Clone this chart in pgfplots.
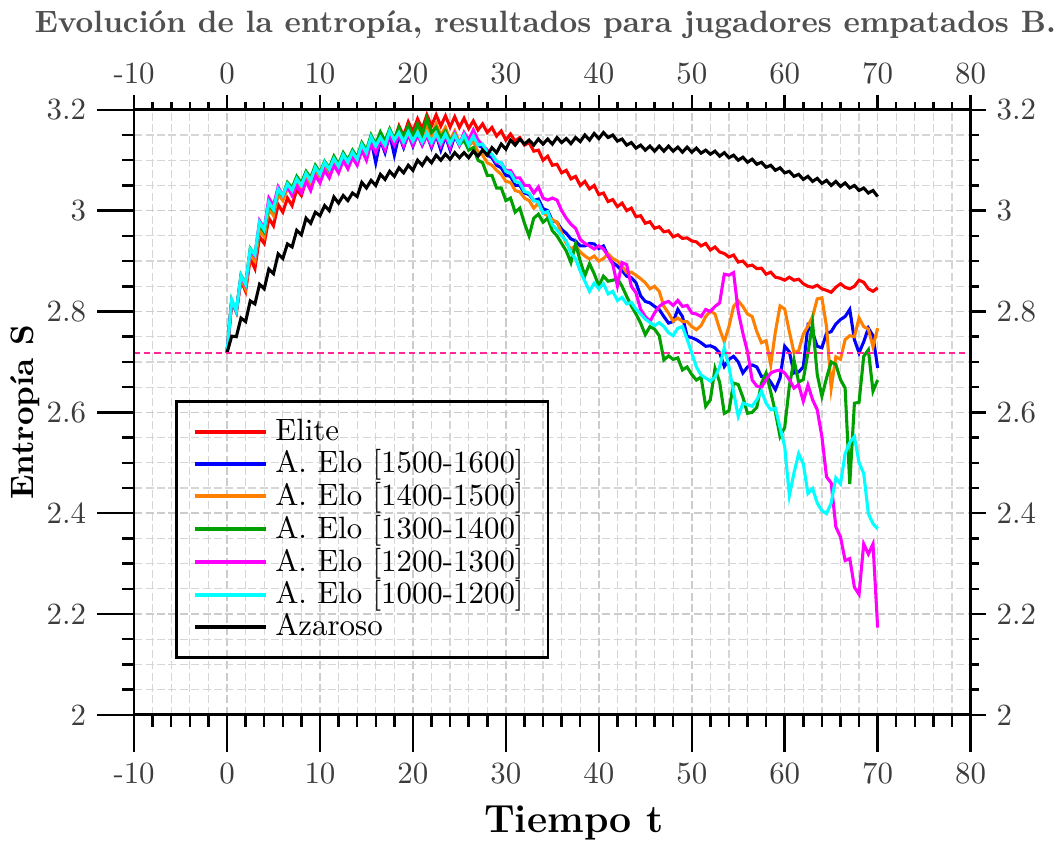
\documentclass[border=0pt]{standalone}
\usepackage{pgfplots}
\usepackage{pgfplotstable}
\pgfplotsset{compat=1.18}
\definecolor{cRed}{RGB}{255,0,0}
\definecolor{cBlue}{RGB}{0,0,255}
\definecolor{cOrange}{RGB}{255,128,0}
\definecolor{cGreen}{RGB}{0,160,0}
\definecolor{cMagenta}{RGB}{255,0,255}
\definecolor{cCyan}{RGB}{0,255,255}
\definecolor{cPink}{RGB}{255,40,150}
\definecolor{tickgray}{RGB}{60,60,60}
\definecolor{titlegray}{RGB}{80,80,80}

\pgfplotstableread{
t R B O G M C K
0 2.718 2.718 2.718 2.718 2.718 2.718 2.718
0.5 2.820 2.820 2.820 2.822 2.820 2.824 2.751
1 2.800 2.800 2.798 2.800 2.800 2.801 2.750
1.5 2.862 2.868 2.865 2.872 2.868 2.871 2.787
2 2.840 2.850 2.845 2.855 2.852 2.854 2.780
2.5 2.905 2.918 2.912 2.925 2.920 2.924 2.821
3 2.885 2.905 2.900 2.912 2.910 2.912 2.815
3.5 2.948 2.965 2.962 2.972 2.980 2.977 2.854
4 2.935 2.952 2.948 2.958 2.965 2.962 2.845
4.5 2.985 3.005 3.005 3.012 3.025 3.017 2.884
5 2.970 2.992 2.990 3.000 3.010 3.002 2.875
5.5 3.012 3.035 3.032 3.040 3.047 3.043 2.914
6 2.997 3.022 3.020 3.030 3.030 3.030 2.905
6.5 3.025 3.048 3.045 3.056 3.048 3.053 2.934
7 3.010 3.035 3.032 3.045 3.030 3.040 2.928
7.5 3.042 3.058 3.055 3.068 3.050 3.063 2.961
8 3.030 3.045 3.042 3.055 3.035 3.050 2.952
8.5 3.060 3.070 3.065 3.078 3.058 3.074 2.985
9 3.048 3.055 3.050 3.065 3.040 3.060 2.975
9.5 3.075 3.082 3.075 3.090 3.070 3.086 2.997
10 3.062 3.068 3.060 3.076 3.055 3.072 2.990
10.5 3.085 3.092 3.085 3.098 3.080 3.096 3.010
11 3.072 3.078 3.068 3.085 3.065 3.082 3.000
11.5 3.095 3.100 3.095 3.108 3.090 3.103 3.027
12 3.080 3.085 3.078 3.092 3.075 3.088 3.015
12.5 3.105 3.108 3.102 3.115 3.100 3.111 3.030
13 3.090 3.092 3.085 3.100 3.083 3.096 3.020
13.5 3.115 3.112 3.110 3.120 3.105 3.116 3.035
14 3.100 3.098 3.095 3.106 3.090 3.102 3.028
14.5 3.128 3.125 3.125 3.135 3.120 3.131 3.056
15 3.112 3.105 3.110 3.120 3.100 3.115 3.045
15.5 3.140 3.140 3.140 3.150 3.135 3.146 3.060
16 3.122 3.095 3.122 3.132 3.115 3.128 3.050
16.5 3.150 3.140 3.148 3.156 3.140 3.145 3.072
17 3.132 3.115 3.130 3.138 3.120 3.130 3.062
17.5 3.160 3.152 3.155 3.162 3.150 3.158 3.078
18 3.140 3.110 3.135 3.142 3.130 3.140 3.068
18.5 3.168 3.150 3.158 3.165 3.150 3.155 3.085
19 3.148 3.125 3.140 3.145 3.128 3.136 3.075
19.5 3.176 3.152 3.162 3.168 3.152 3.156 3.090
20 3.156 3.128 3.142 3.148 3.130 3.138 3.080
20.5 3.182 3.152 3.166 3.172 3.152 3.155 3.100
21 3.162 3.130 3.145 3.152 3.130 3.136 3.090
21.5 3.190 3.150 3.170 3.183 3.150 3.154 3.105
22 3.168 3.125 3.148 3.155 3.128 3.135 3.095
22.5 3.190 3.150 3.172 3.165 3.150 3.153 3.110
23 3.168 3.120 3.150 3.145 3.128 3.134 3.100
23.5 3.188 3.148 3.165 3.158 3.150 3.152 3.112
24 3.166 3.120 3.140 3.138 3.125 3.133 3.102
24.5 3.186 3.148 3.158 3.150 3.152 3.150 3.115
25 3.165 3.130 3.135 3.130 3.130 3.132 3.105
25.5 3.183 3.150 3.150 3.140 3.155 3.150 3.115
26 3.163 3.132 3.128 3.120 3.140 3.130 3.105
26.5 3.178 3.150 3.138 3.125 3.160 3.148 3.118
27 3.160 3.130 3.116 3.100 3.140 3.130 3.108
27.5 3.172 3.125 3.110 3.095 3.130 3.132 3.120
28 3.155 3.110 3.095 3.070 3.120 3.115 3.110
28.5 3.165 3.105 3.090 3.070 3.110 3.112 3.125
29 3.148 3.090 3.080 3.045 3.095 3.098 3.115
29.5 3.158 3.085 3.072 3.045 3.095 3.095 3.132
30 3.140 3.070 3.058 3.020 3.080 3.078 3.122
30.5 3.152 3.068 3.056 3.025 3.080 3.075 3.140
31 3.138 3.050 3.040 2.997 3.065 3.058 3.130
31.5 3.145 3.050 3.037 3.005 3.065 3.055 3.142
32 3.130 3.035 3.025 2.975 3.050 3.038 3.132
32.5 3.135 3.032 3.020 2.950 3.050 3.035 3.140
33 3.118 3.020 3.005 2.985 3.035 3.020 3.130
33.5 3.120 3.023 3.015 2.993 3.047 3.017 3.142
34 3.100 3.004 2.995 2.977 3.025 2.995 3.132
34.5 3.108 3.000 2.990 2.985 3.021 2.998 3.142
35 3.090 2.980 2.982 2.960 3.025 2.972 3.132
35.5 3.092 2.977 2.977 2.950 3.021 2.962 3.145
36 3.075 2.963 2.955 2.935 3.000 2.950 3.135
36.5 3.080 2.955 2.935 2.920 2.985 2.940 3.143
37 3.063 2.944 2.924 2.897 2.973 2.915 3.133
37.5 3.068 2.940 2.930 2.934 2.965 2.905 3.145
38 3.050 2.930 2.918 2.900 2.943 2.880 3.137
38.5 3.058 2.930 2.910 2.871 2.935 2.860 3.150
39 3.043 2.935 2.904 2.895 2.930 2.840 3.140
39.5 3.050 2.934 2.910 2.875 2.924 2.856 3.153
40 3.032 2.925 2.900 2.851 2.930 2.845 3.143
40.5 3.035 2.930 2.905 2.870 2.924 2.855 3.155
41 3.018 2.910 2.914 2.860 2.910 2.835 3.145
41.5 3.022 2.897 2.905 2.862 2.894 2.840 3.150
42 3.008 2.890 2.900 2.865 2.851 2.822 3.138
42.5 3.015 2.881 2.890 2.850 2.897 2.828 3.142
43 3.000 2.870 2.877 2.830 2.893 2.815 3.130
43.5 3.005 2.867 2.878 2.811 2.850 2.818 3.135
44 2.988 2.857 2.872 2.795 2.837 2.805 3.124
44.5 2.990 2.831 2.865 2.777 2.804 2.795 3.130
45 2.975 2.820 2.857 2.754 2.790 2.785 3.120
45.5 2.978 2.817 2.845 2.770 2.780 2.778 3.128
46 2.965 2.810 2.850 2.765 2.797 2.772 3.118
46.5 2.968 2.804 2.840 2.752 2.810 2.778 3.128
47 2.958 2.790 2.810 2.704 2.817 2.770 3.118
47.5 2.960 2.777 2.797 2.712 2.820 2.758 3.128
48 2.948 2.780 2.781 2.705 2.812 2.752 3.118
48.5 2.952 2.804 2.787 2.708 2.822 2.767 3.126
49 2.945 2.790 2.780 2.684 2.810 2.770 3.116
49.5 2.946 2.751 2.780 2.690 2.812 2.745 3.126
50 2.940 2.748 2.770 2.675 2.797 2.718 3.116
50.5 2.938 2.744 2.764 2.664 2.795 2.690 3.124
51 2.930 2.738 2.772 2.670 2.790 2.674 3.114
51.5 2.935 2.731 2.790 2.612 2.804 2.668 3.120
52 2.922 2.732 2.801 2.625 2.800 2.662 3.112
52.5 2.928 2.728 2.795 2.687 2.810 2.670 3.118
53 2.918 2.718 2.765 2.660 2.817 2.690 3.108
53.5 2.915 2.691 2.740 2.598 2.874 2.728 3.115
54 2.908 2.705 2.770 2.603 2.872 2.690 3.105
54.5 2.912 2.711 2.810 2.658 2.877 2.640 3.110
55 2.898 2.700 2.821 2.655 2.800 2.592 3.100
55.5 2.900 2.678 2.810 2.630 2.757 2.618 3.106
56 2.890 2.690 2.795 2.598 2.720 2.615 3.096
56.5 2.892 2.694 2.790 2.600 2.664 2.612 3.102
57 2.885 2.690 2.760 2.610 2.652 2.625 3.092
57.5 2.886 2.671 2.738 2.658 2.650 2.642 3.096
58 2.874 2.672 2.742 2.678 2.665 2.618 3.086
58.5 2.878 2.660 2.694 2.640 2.678 2.605 3.090
59 2.868 2.645 2.760 2.600 2.682 2.608 3.080
59.5 2.866 2.668 2.811 2.552 2.684 2.570 3.085
60 2.862 2.731 2.805 2.570 2.678 2.532 3.075
60.5 2.868 2.720 2.760 2.652 2.665 2.435 3.078
61 2.862 2.678 2.718 2.704 2.648 2.480 3.068
61.5 2.864 2.680 2.722 2.660 2.655 2.518 3.072
62 2.855 2.690 2.755 2.665 2.622 2.498 3.062
62.5 2.850 2.771 2.771 2.718 2.654 2.439 3.068
63 2.848 2.758 2.790 2.777 2.625 2.449 3.058
63.5 2.852 2.731 2.825 2.675 2.605 2.420 3.064
64 2.845 2.728 2.827 2.632 2.552 2.405 3.054
64.5 2.842 2.757 2.770 2.668 2.472 2.399 3.060
65 2.838 2.760 2.648 2.700 2.460 2.420 3.050
65.5 2.848 2.775 2.710 2.695 2.373 2.470 3.058
66 2.855 2.784 2.705 2.665 2.353 2.458 3.048
66.5 2.848 2.790 2.744 2.648 2.306 2.518 3.055
67 2.845 2.804 2.752 2.458 2.310 2.540 3.045
67.5 2.850 2.744 2.750 2.618 2.253 2.552 3.050
68 2.862 2.718 2.787 2.620 2.239 2.500 3.040
68.5 2.858 2.740 2.770 2.711 2.339 2.479 3.045
69 2.845 2.767 2.765 2.724 2.319 2.399 3.035
69.5 2.840 2.752 2.730 2.642 2.339 2.379 3.040
70 2.847 2.688 2.767 2.664 2.173 2.369 3.028
}\datatab

\begin{document}
\begin{tikzpicture}
\begin{axis}[
  scale only axis, width=271pt, height=196pt,
  xmin=-10, xmax=80, ymin=2, ymax=3.2,
  xtick={-10,0,10,20,30,40,50,60,70,80},
  xticklabels={-10,0,10,20,30,40,50,60,70,80},
  ytick={2,2.2,2.4,2.6,2.8,3,3.2},
  yticklabels={2,2.2,2.4,2.6,2.8,3,3.2},
  minor x tick num=4, minor y tick num=3,
  xtick pos=left, ytick pos=left,
  tick align=outside,
  major tick length=12pt, minor tick length=3.9pt,
  grid=both,
  major grid style={dash pattern=on 2.6pt off 1.1pt, gray!40, line width=0.5pt},
  minor grid style={dash pattern=on 2.6pt off 1.1pt, gray!32, line width=0.4pt},
  axis line style={line width=0.9pt},
  every tick/.style={black, line width=0.8pt},
  tick label style={color=tickgray},
  xlabel={\fontsize{12.7}{15}\selectfont\bfseries Tiempo t},
  xlabel style={xshift=7pt},
  ylabel={\fontsize{10.5}{12}\selectfont\bfseries Entropía S},
  ylabel style={at={(axis description cs:-0.1306,0.5)}, anchor=center},
  legend style={at={(0.049,0.52)}, anchor=north west, draw=black, line width=0.8pt,
    fill=none, font=\normalsize, inner xsep=5.5pt, inner ysep=4.8pt,
    nodes={inner ysep=0.8pt, inner xsep=2.5pt}},
  legend cell align=left,
  legend image code/.code={\draw[#1, line width=1.3pt] (0cm,0cm) -- (0.8cm,0cm);},
  every axis plot/.append style={line width=1pt},
]
\addplot[cRed] table[x=t, y=R] {\datatab};
\addlegendentry{Elite}
\addplot[cBlue] table[x=t, y=B] {\datatab};
\addlegendentry{A. Elo [1500-1600]}
\addplot[cOrange] table[x=t, y=O] {\datatab};
\addlegendentry{A. Elo [1400-1500]}
\addplot[cGreen] table[x=t, y=G] {\datatab};
\addlegendentry{A. Elo [1300-1400]}
\addplot[cMagenta] table[x=t, y=M] {\datatab};
\addlegendentry{A. Elo [1200-1300]}
\addplot[cCyan] table[x=t, y=C] {\datatab};
\addlegendentry{A. Elo [1000-1200]}
\addplot[black] table[x=t, y=K] {\datatab};
\addlegendentry{Azaroso}
\addplot[cPink, dash pattern=on 2pt off 1.3pt, line width=0.5pt, forget plot] coordinates {(-10,2.718) (80,2.718)};
\end{axis}
\begin{axis}[
  scale only axis, width=271pt, height=196pt,
  xmin=-10, xmax=80, ymin=2, ymax=3.2,
  xtick={-10,0,10,20,30,40,50,60,70,80},
  xticklabels={-10,0,10,20,30,40,50,60,70,80},
  ytick={2,2.2,2.4,2.6,2.8,3,3.2},
  yticklabels={2,2.2,2.4,2.6,2.8,3,3.2},
  minor x tick num=4, minor y tick num=3,
  xtick pos=right, ytick pos=right,
  xticklabel pos=right, yticklabel pos=right,
  tick align=outside,
  major tick length=4.9pt, minor tick length=2.6pt,
  axis line style={line width=0.9pt},
  every tick/.style={black, line width=0.8pt},
  tick label style={color=tickgray},
  title={\normalsize\bfseries Evolución de la entropía, resultados para jugadores empatados B.},
  title style={color=titlegray, at={(0.5,1)}, anchor=base, yshift=19.2pt, xshift=-2.3pt, inner xsep=1pt},
]
\end{axis}
\end{tikzpicture}
\end{document}
